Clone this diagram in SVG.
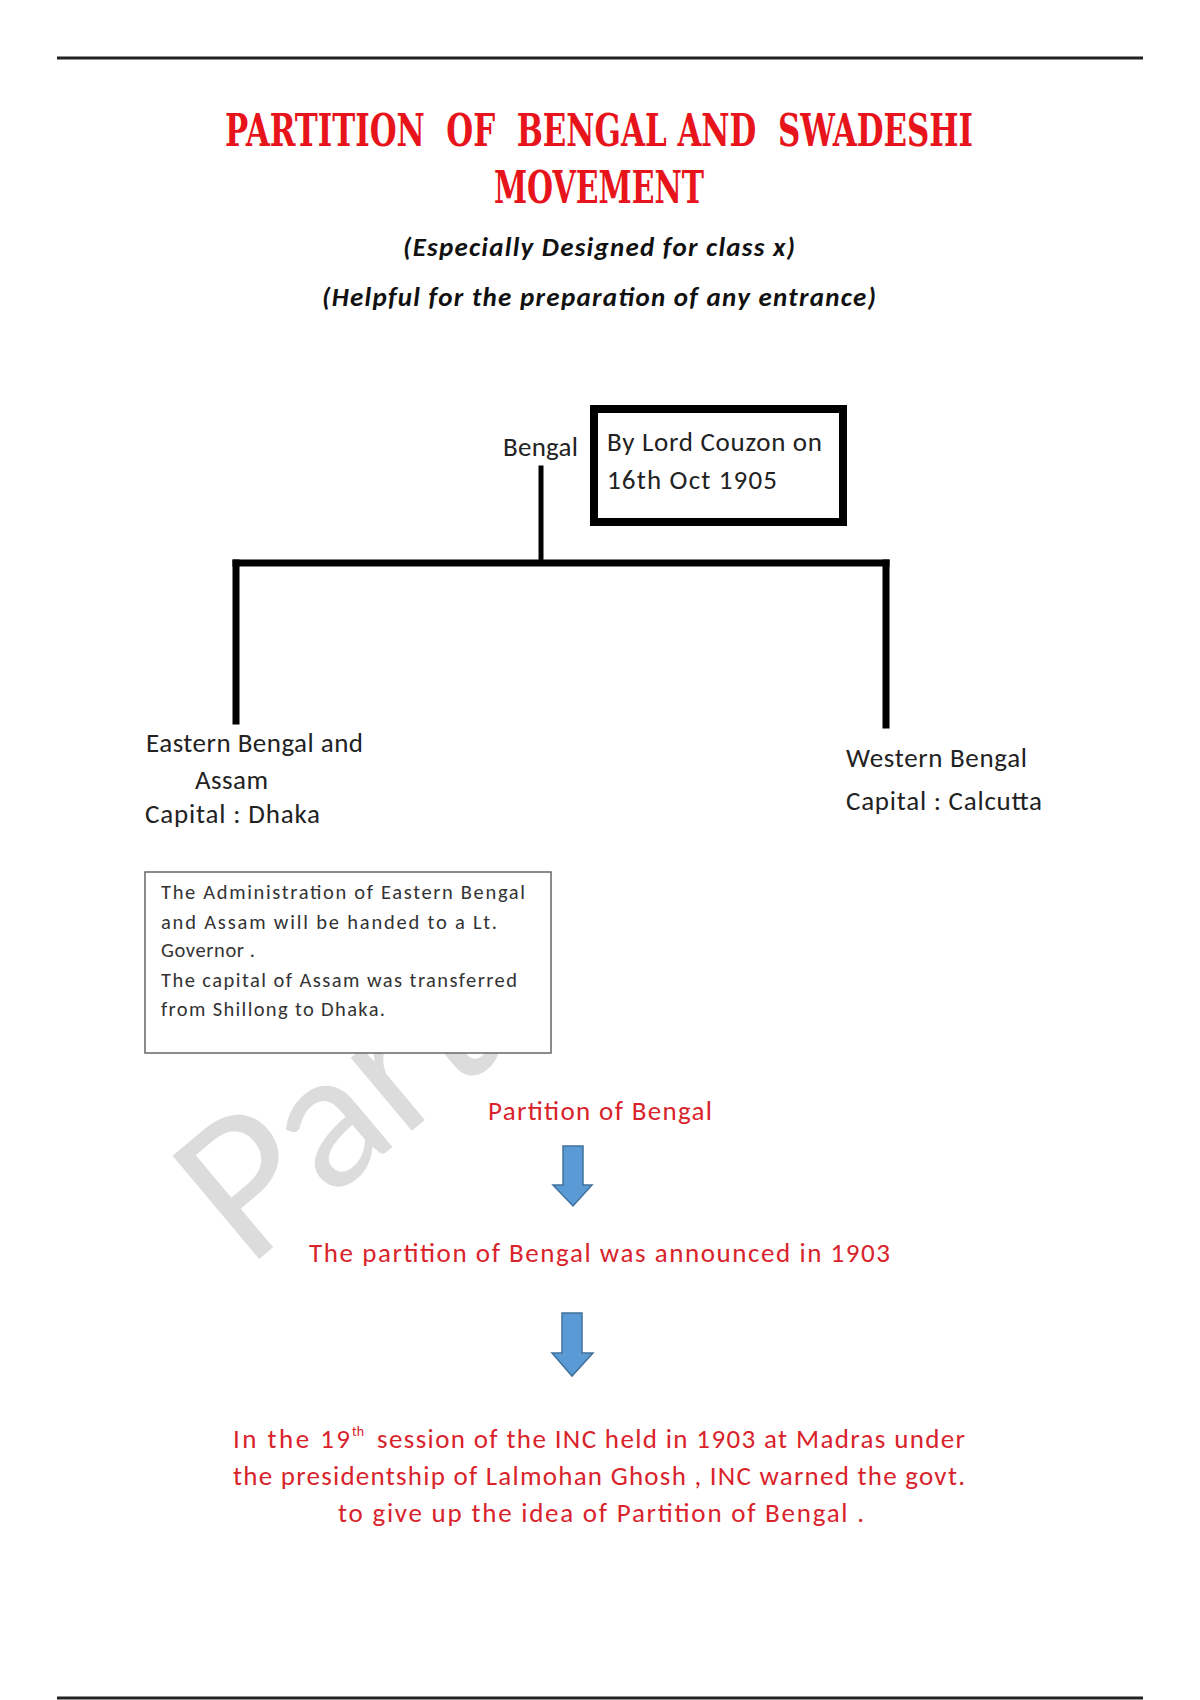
<svg xmlns="http://www.w3.org/2000/svg" width="1200" height="1700" viewBox="0 0 1200 1700">
<style>
.title{font-family:"DejaVu Serif Condensed","DejaVu Serif",serif;font-weight:bold;font-size:44px;fill:#e8141b}
.sub{font-family:Carlito,Lato,"Open Sans",sans-serif;font-weight:bold;font-style:italic;font-size:27px;fill:#111}
.lbl{font-family:Carlito,Lato,"Open Sans",sans-serif;font-size:27px;fill:#222}
.small{font-family:Carlito,Lato,"Open Sans",sans-serif;font-size:20.5px;fill:#333}
.red{font-family:Carlito,Lato,"Open Sans",sans-serif;font-size:27px;fill:#d9232b}
.sup{font-family:Carlito,Lato,"Open Sans",sans-serif;font-size:14px;fill:#d9232b}
.conn{stroke:#000;fill:none;stroke-linecap:square}
.arrow{fill:#5b9bd5;stroke:#41719c;stroke-width:1.5}
</style>
<rect width="1200" height="1700" fill="#fff"/>
<line x1="57" y1="58" x2="1143" y2="58" stroke="#222" stroke-width="3"/>
<line x1="57" y1="1698" x2="1143" y2="1698" stroke="#222" stroke-width="3"/>

<g id="title">
<text class="title" x="225" y="146" textLength="748" lengthAdjust="spacingAndGlyphs" xml:space="preserve">PARTITION  OF  BENGAL AND  SWADESHI</text>
<text class="title" x="494" y="203" textLength="210" lengthAdjust="spacingAndGlyphs">MOVEMENT</text>
</g>
<g id="subtitle">
<text class="sub" x="403" y="256" textLength="392">(Especially  Designed  for  class  x)</text>
<text class="sub" x="322" y="306" textLength="554">(Helpful  for  the  preparation  of  any entrance)</text>
</g>

<g id="watermark">
<text transform="translate(246,1270) rotate(-40)" font-family="Lato,'Open Sans',sans-serif" font-size="188" fill="#dcdcdc">Parti</text>
</g>

<g id="connectors">
<line class="conn" x1="541" y1="468" x2="541" y2="562" stroke-width="5"/>
<line class="conn" x1="236" y1="563" x2="886" y2="563" stroke-width="7"/>
<line class="conn" x1="236" y1="563" x2="236" y2="721" stroke-width="7"/>
<line class="conn" x1="886" y1="563" x2="886" y2="725" stroke-width="7"/>
</g>

<g id="bengal">
<text class="lbl" x="503" y="456" textLength="75">Bengal</text>
</g>
<g id="couzon-box">
<rect x="594" y="409" width="249" height="113" fill="#fff" stroke="#000" stroke-width="8"/>
<text class="lbl" x="607" y="451" textLength="215">By Lord Couzon on</text>
<text class="lbl" x="607" y="489" textLength="170">16th  Oct 1905</text>
</g>

<g id="eastern">
<text class="lbl" x="146" y="752" textLength="217">Eastern Bengal and</text>
<text class="lbl" x="195" y="789" textLength="73">Assam</text>
<text class="lbl" x="145" y="823" textLength="175">Capital :  Dhaka</text>
</g>
<g id="western">
<text class="lbl" x="846" y="767" textLength="181">Western Bengal</text>
<text class="lbl" x="846" y="810" textLength="196">Capital :  Calcutta</text>
</g>

<g id="admin-box">
<rect x="145" y="872" width="406" height="181" fill="#fff" stroke="#666" stroke-width="1.5"/>
<text class="small" x="161" y="899" textLength="364">The  Administration  of Eastern Bengal</text>
<text class="small" x="161" y="929" textLength="336">and Assam will be handed to a Lt.</text>
<text class="small" x="161" y="957" textLength="94">Governor .</text>
<text class="small" x="161" y="987" textLength="356">The capital of Assam was transferred</text>
<text class="small" x="161" y="1016" textLength="224">from Shillong to Dhaka.</text>
</g>

<g id="partition">
<text class="red" x="488" y="1120" textLength="224">Partition  of  Bengal</text>
</g>
<g id="arrow1">
<polygon class="arrow" points="563,1146 583,1146 583,1185 592,1185 573,1206 553,1185 563,1185"/>
</g>
<g id="announced">
<text class="red" x="309" y="1262" textLength="581">The  partition  of  Bengal  was  announced  in  1903</text>
</g>
<g id="arrow2">
<polygon class="arrow" points="562,1313 582,1313 582,1353 593,1353 572,1376 552,1353 562,1353"/>
</g>
<g id="inc">
<text class="red" x="233" y="1448" textLength="117">In  the  19</text>
<text class="sup" x="352" y="1436">th</text>
<text class="red" x="377" y="1448" textLength="588">session  of  the INC  held  in  1903 at  Madras  under</text>
<text class="red" x="233" y="1485" textLength="732">the  presidentship  of  Lalmohan  Ghosh , INC  warned  the  govt.</text>
<text class="red" x="338" y="1522" textLength="526">to  give  up  the  idea  of  Partition  of  Bengal .</text>
</g>
</svg>
